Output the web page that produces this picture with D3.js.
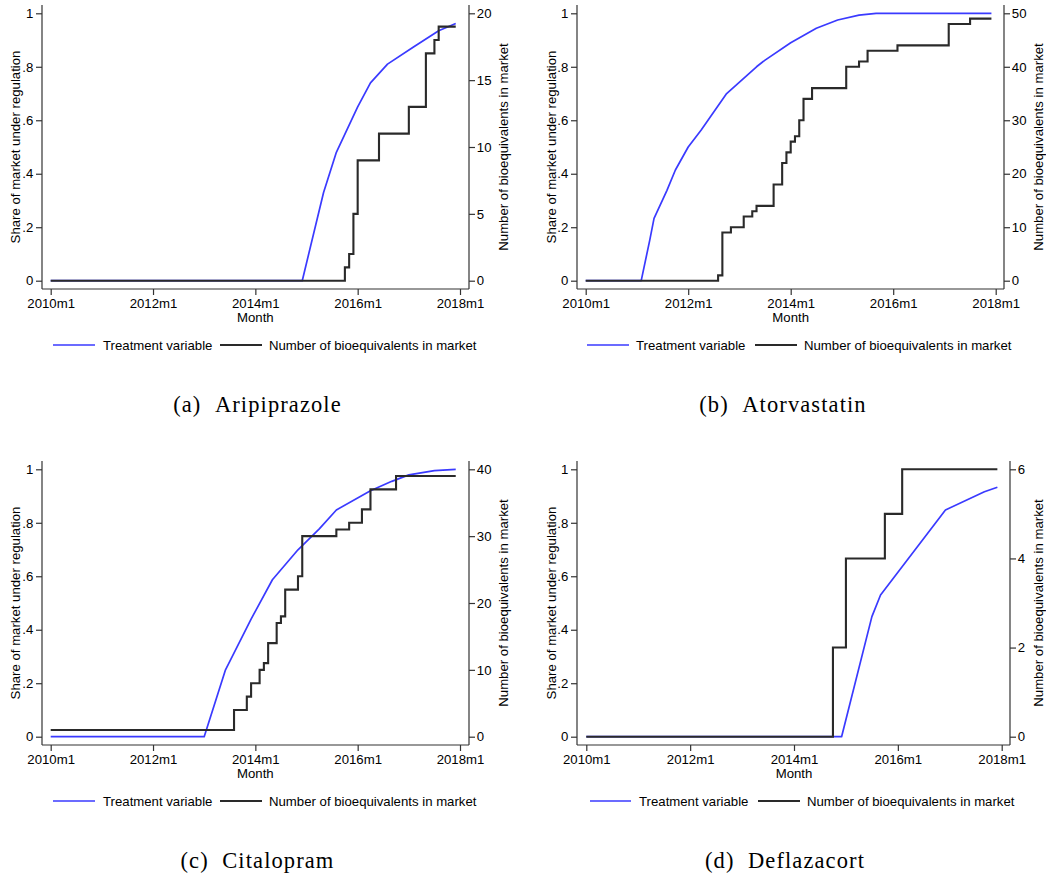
<!DOCTYPE html>
<html><head><meta charset="utf-8">
<script src="https://cdn.jsdelivr.net/npm/d3@7"></script>
<style>
body{margin:0;background:#fff}
svg{display:block}
</style>
</head><body><svg id="c" width="1046" height="877"></svg>
<script>
// ---------- data ----------
const xTickMonths = [0, 24, 48, 72, 96];
const xTickLabels = ["2010m1", "2012m1", "2014m1", "2016m1", "2018m1"];
const leftTicks = [0, 0.2, 0.4, 0.6, 0.8, 1];
const leftTickLabels = ["0", ".2", ".4", ".6", ".8", "1"];
const seriesNames = ["Treatment variable", "Number of bioequivalents in market"];
const xTitle = "Month";
const leftTitle = "Share of market under regulation";
const rightTitle = "Number of bioequivalents in market";
const captions = ["(a)\u00a0\u00a0Aripiprazole", "(b)\u00a0\u00a0Atorvastatin", "(c)\u00a0\u00a0Citalopram", "(d)\u00a0\u00a0Deflazacort"];

// months since 2010m1
const aripTreatMonth = [0, 59, 64, 67, 72, 75, 79, 85, 91, 95];
const aripTreatValue = [0, 0, 0.33, 0.48, 0.65, 0.74, 0.81, 0.873, 0.935, 0.962];
const aripCountMonth = [0, 69, 70, 71, 72, 77, 84, 88, 90, 91, 95];
const aripCountValue = [0, 1, 2, 5, 9, 11, 13, 17, 18, 19, 19];
const aripRightTicks = [0, 5, 10, 15, 20];

const atorTreatMonth = [0, 13, 15, 16, 19, 21, 24, 27, 33, 40, 42, 48, 54, 59, 64, 68, 95];
const atorTreatValue = [0, 0, 0.152, 0.233, 0.337, 0.414, 0.50, 0.563, 0.70, 0.80, 0.825, 0.89, 0.944, 0.975, 0.993, 1, 1];
const atorCountMonth = [0, 31, 32, 34, 37, 39, 40, 44, 46, 47, 48, 49, 50, 51, 53, 61, 64, 66, 73, 85, 90, 95];
const atorCountValue = [0, 1, 9, 10, 12, 13, 14, 18, 22, 24, 26, 27, 30, 34, 36, 40, 41, 43, 44, 48, 49, 49];
const atorRightTicks = [0, 10, 20, 30, 40, 50];

const citaTreatMonth = [0, 36, 41, 47, 52, 58, 63, 67, 75, 80, 84, 90, 95];
const citaTreatValue = [0, 0, 0.25, 0.44, 0.587, 0.699, 0.777, 0.848, 0.92, 0.955, 0.979, 0.995, 1.0];
const citaCountMonth = [0, 43, 46, 47, 49, 50, 51, 53, 54, 55, 58, 59, 67, 70, 73, 75, 81, 95];
const citaCountValue = [1, 4, 6, 8, 10, 11, 14, 17, 18, 22, 24, 30, 31, 32, 34, 37, 39, 39];
const citaRightTicks = [0, 10, 20, 30, 40];

const deflTreatMonth = [0, 59, 66, 68, 83, 92, 95];
const deflTreatValue = [0, 0, 0.449, 0.53, 0.848, 0.916, 0.933];
const deflCountMonth = [0, 57, 60, 69, 73, 95];
const deflCountValue = [0, 2, 4, 5, 6, 6];
const deflRightTicks = [0, 2, 4, 6];

// ---------- layout ----------
const panels = [
  {tm: aripTreatMonth, tv: aripTreatValue, cm: aripCountMonth, cv: aripCountValue, rt: aripRightTicks,
   x0: 50.7, x1: 460, dy: 0, axL: 42, axR: 469, lTitleX: 15, rTitleX: 503,
   leg: [53, 95, 103, 220, 262, 269], capX: 257.5},
  {tm: atorTreatMonth, tv: atorTreatValue, cm: atorCountMonth, cv: atorCountValue, rt: atorRightTicks,
   x0: 585.7, x1: 995.7, dy: 0, axL: 577, axR: 1004, lTitleX: 551.3, rTitleX: 1038,
   leg: [587, 629, 636, 755, 797, 804], capX: 783},
  {tm: citaTreatMonth, tv: citaTreatValue, cm: citaCountMonth, cv: citaCountValue, rt: citaRightTicks,
   x0: 50.7, x1: 460, dy: 456, axL: 42, axR: 469, lTitleX: 15, rTitleX: 503,
   leg: [53, 95, 103, 220, 262, 269], capX: 257.5},
  {tm: deflTreatMonth, tv: deflTreatValue, cm: deflCountMonth, cv: deflCountValue, rt: deflRightTicks,
   x0: 586.3, x1: 1001.7, dy: 456, axL: 577, axR: 1010, lTitleX: 551.3, rTitleX: 1038,
   leg: [590, 631, 639, 758, 800, 807], capX: 785}
];

const svg = d3.select("#c");
const FONT = "'Liberation Sans', Arial, Helvetica, sans-serif";
const FS = 13.2;
const BLUE = "#3a3aff";
const BLACK = "#2a2a2a";
const AXC = "#333";
const TXT = "#000";

panels.forEach((p, i) => {
  const g = svg.append("g").attr("transform", `translate(0,${p.dy})`)
    .style("font-family", FONT).style("font-size", FS + "px");
  const yTop = 13.3, yBot = 280.7, axTop = 5, axBot = 289;
  const x = d3.scaleLinear().domain([0, 96]).range([p.x0, p.x1]);
  const yL = d3.scaleLinear().domain([0, 1]).range([yBot, yTop]);
  const yR = d3.scaleLinear().domain([0, p.rt[p.rt.length - 1]]).range([yBot, yTop]);

  // axis lines
  g.append("line").attr("x1", p.axL).attr("x2", p.axL).attr("y1", axTop).attr("y2", axBot)
    .attr("stroke", AXC).attr("stroke-width", 1.2);
  g.append("line").attr("x1", p.axR).attr("x2", p.axR).attr("y1", axTop).attr("y2", axBot)
    .attr("stroke", AXC).attr("stroke-width", 1.2);
  g.append("line").attr("x1", p.axL).attr("x2", p.axR).attr("y1", axBot).attr("y2", axBot)
    .attr("stroke", AXC).attr("stroke-width", 1.2);

  const styleAxis = sel => {
    sel.select(".domain").remove();
    sel.selectAll(".tick line").attr("stroke", AXC).attr("stroke-width", 1.2);
    sel.selectAll(".tick text").attr("fill", TXT).style("font-family", FONT).style("font-size", FS + "px");
  };

  g.append("g").attr("transform", `translate(${p.axL},0)`)
    .call(d3.axisLeft(yL).tickValues(leftTicks).tickFormat((d, k) => leftTickLabels[k]).tickSize(6).tickPadding(2.7))
    .call(styleAxis);
  g.append("g").attr("transform", `translate(${p.axR},0)`)
    .call(d3.axisRight(yR).tickValues(p.rt).tickFormat(d3.format("d")).tickSize(6).tickPadding(1.8))
    .call(styleAxis);
  g.append("g").attr("transform", `translate(0,${axBot})`)
    .call(d3.axisBottom(x).tickValues(xTickMonths).tickFormat((d, k) => xTickLabels[k]).tickSize(6).tickPadding(3.3))
    .call(styleAxis);

  // titles
  g.append("text").attr("x", (p.x0 + p.x1) / 2).attr("y", 322).attr("text-anchor", "middle")
    .attr("fill", TXT).text(xTitle);
  g.append("text").attr("transform", `translate(${p.lTitleX + 4.6},147) rotate(-90)`)
    .attr("text-anchor", "middle").attr("fill", TXT).text(leftTitle);
  g.append("text").attr("transform", `translate(${p.rTitleX + 4.6},147) rotate(-90)`)
    .attr("text-anchor", "middle").attr("fill", TXT).text(rightTitle);

  // series
  const tData = p.tm.map((m, k) => [m, p.tv[k]]);
  const cData = p.cm.map((m, k) => [m, p.cv[k]]);
  g.append("path").datum(tData)
    .attr("d", d3.line().x(d => x(d[0])).y(d => yL(d[1])))
    .attr("fill", "none").attr("stroke", BLUE).attr("stroke-width", 1.7).attr("stroke-linejoin", "round");
  g.append("path").datum(cData)
    .attr("d", d3.line().curve(d3.curveStepAfter).x(d => x(d[0])).y(d => yR(d[1])))
    .attr("fill", "none").attr("stroke", BLACK).attr("stroke-width", 2.1).attr("stroke-linejoin", "miter");

  // legend
  const ly = 345;
  const L = p.leg;
  g.append("line").attr("x1", L[0]).attr("x2", L[1]).attr("y1", ly).attr("y2", ly)
    .attr("stroke", BLUE).attr("stroke-width", 1.7);
  g.append("text").attr("x", L[2]).attr("y", ly).attr("dy", "0.35em").attr("fill", TXT).text(seriesNames[0]);
  g.append("line").attr("x1", L[3]).attr("x2", L[4]).attr("y1", ly).attr("y2", ly)
    .attr("stroke", BLACK).attr("stroke-width", 2.1);
  g.append("text").attr("x", L[5]).attr("y", ly).attr("dy", "0.35em").attr("fill", TXT).text(seriesNames[1]);

  // caption
  g.append("text").attr("x", p.capX).attr("y", 412.3).attr("text-anchor", "middle")
    .style("font-family", "'Liberation Serif', 'Times New Roman', serif").style("font-size", "22.5px")
    .style("letter-spacing", "1.1px")
    .attr("fill", TXT).text(captions[i]);
});
</script>
</body></html>
